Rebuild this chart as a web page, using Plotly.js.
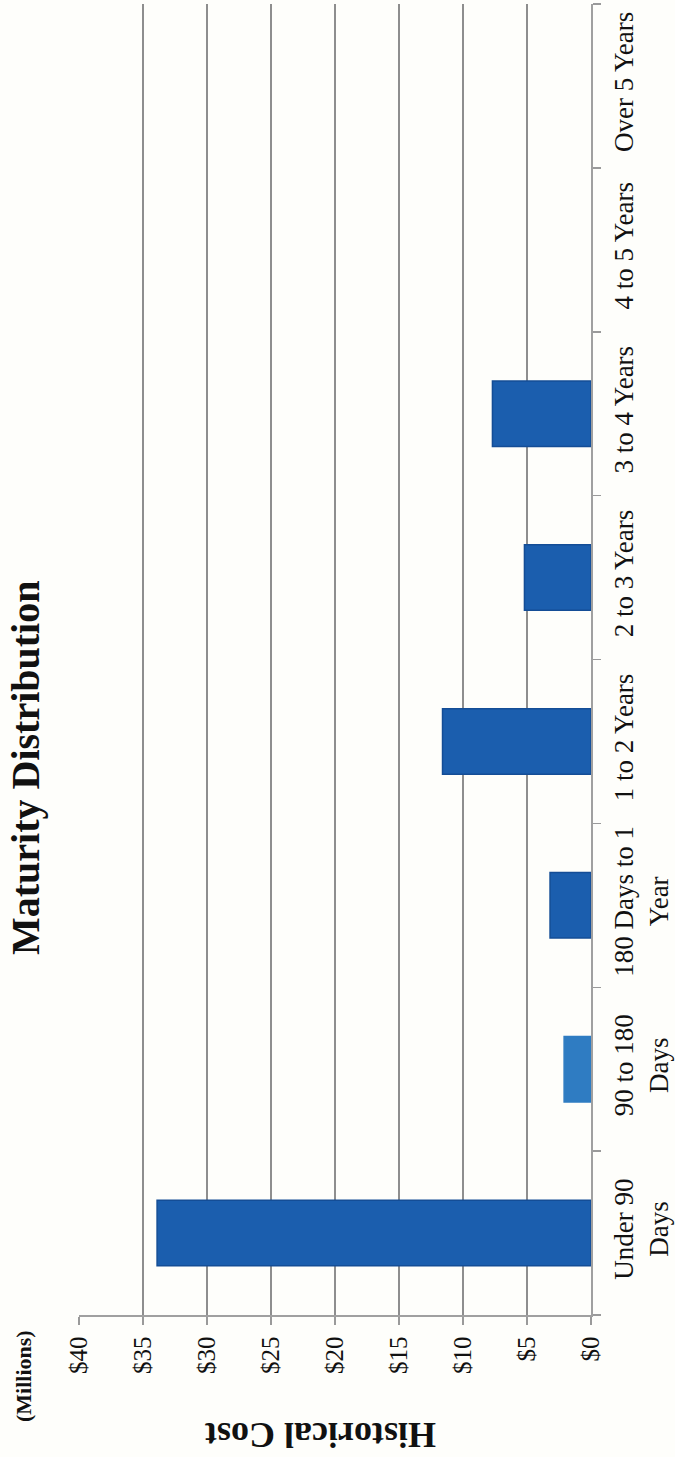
<!DOCTYPE html>
<html>
<head>
<meta charset="utf-8">
<script src="https://cdn.plot.ly/plotly-3.0.1.min.js"></script>
<style>
  html, body { margin: 0; padding: 0; background: #fefefb; }
  #chart { width: 675px; height: 1457px; }
</style>
</head>
<body>
<div id="chart"></div>
<script>
// ---- data ----
const categories = [
  "Under 90<br>Days",
  "90 to 180<br>Days",
  "180 Days to 1<br>Year",
  "1 to 2 Years",
  "2 to 3 Years",
  "3 to 4 Years",
  "4 to 5 Years",
  "Over 5 Years"
];
const historicalCost = [33.9, 2.1, 3.2, 11.6, 5.2, 7.7, 0, 0];   // $ millions
const tickValues = [0, 5, 10, 15, 20, 25, 30, 35, 40];
const tickLabels = ["$0", "$5", "$10", "$15", "$20", "$25", "$30", "$35", "$40"];
const chartTitle = "Maturity Distribution";
const axisTitle = "Historical Cost";
const unitLabel = "(Millions)";

// ---- styles ----
const barColors = ["#1b5eae", "#2f7cc2", "#1b5eae", "#1b5eae", "#1b5eae", "#1b5eae", "#1b5eae", "#1b5eae"];
const barLines  = ["#144d96", "#2f7cc2", "#144d96", "#144d96", "#144d96", "#144d96", "#144d96", "#144d96"];
const barLineWidths = historicalCost.map(v => (v > 0 ? 1.5 : 0));
const serif = "Liberation Serif, Times New Roman, serif";

const W = 675, H = 1457;
const M = { l: 79, r: 84, t: 4, b: 142 };
const plotW = W - M.l - M.r, plotH = H - M.t - M.b;
const px = x => (x - M.l) / plotW;
const py = y => (H - M.b - y) / plotH;

const trace = {
  type: "bar",
  orientation: "h",
  x: historicalCost,
  y: categories,
  marker: { color: barColors, line: { color: barLines, width: barLineWidths } },
  hoverinfo: "none"
};

const layout = {
  width: W, height: H,
  margin: M,
  paper_bgcolor: "#fefefb",
  plot_bgcolor: "#fefefb",
  showlegend: false,
  bargap: 0.6,
  font: { family: serif, color: "#111" },
  xaxis: {
    range: [40, 0],
    tickvals: tickValues,
    ticktext: tickLabels,
    tickangle: -90,
    ticks: "outside",
    ticklen: 8,
    tickwidth: 1.5,
    tickcolor: "#9a9a9a",
    showgrid: true,
    gridcolor: "#8e8e8e",
    gridwidth: 1.5,
    showline: true,
    linecolor: "#a0a0a0",
    linewidth: 1.5,
    zeroline: false,
    automargin: false,
    ticklabelstandoff: 2,
    tickfont: { family: serif, size: 25, color: "#111" }
  },
  yaxis: {
    type: "category",
    side: "right",
    tickangle: -90,
    ticks: "outside",
    tickson: "boundaries",
    ticklen: 8,
    tickwidth: 1.5,
    tickcolor: "#9a9a9a",
    showgrid: false,
    showline: true,
    linecolor: "#a0a0a0",
    linewidth: 1.5,
    zeroline: false,
    automargin: false,
    ticklabelstandoff: 8,
    tickfont: { family: serif, size: 27, color: "#111" }
  },
  annotations: [
    {
      text: chartTitle, textangle: -90, showarrow: false,
      xref: "paper", yref: "paper", x: px(25), y: py(768),
      xanchor: "center", yanchor: "middle",
      font: { family: serif, size: 40, color: "#111", weight: "bold" }
    },
    {
      text: unitLabel, textangle: -90, showarrow: false,
      xref: "paper", yref: "paper", x: px(23), y: py(1376),
      xanchor: "center", yanchor: "middle",
      font: { family: serif, size: 22, color: "#111", weight: "bold" }
    },
    {
      text: axisTitle, textangle: 180, showarrow: false,
      xref: "paper", yref: "paper", x: px(321), y: py(1435),
      xanchor: "center", yanchor: "middle",
      font: { family: serif, size: 36, color: "#111", weight: "bold" }
    }
  ]
};

Plotly.newPlot("chart", [trace], layout, { staticPlot: true, displayModeBar: false });
</script>
</body>
</html>
